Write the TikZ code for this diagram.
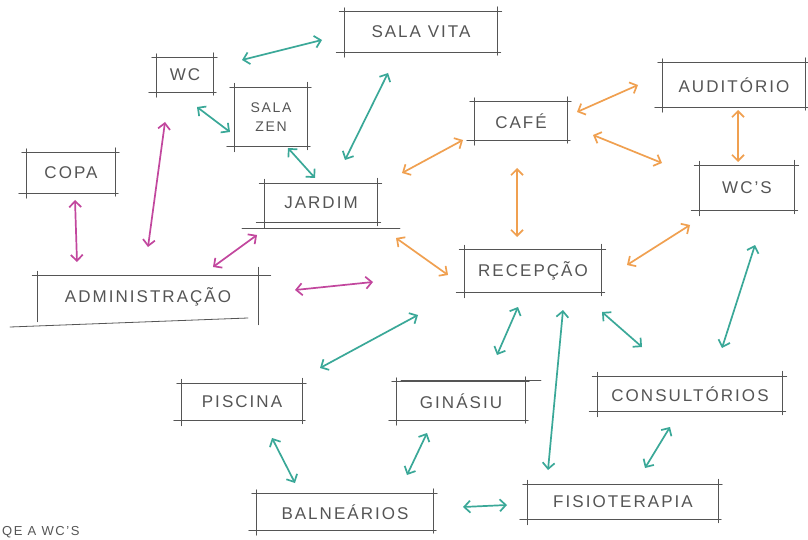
\documentclass[tikz,border=0pt]{standalone}
\usepackage{fontspec}
\setmainfont[LetterSpace=12]{Liberation Sans}
\usetikzlibrary{arrows.meta}
\definecolor{tealc}{HTML}{3AA898}
\definecolor{orng}{HTML}{F0A050}
\definecolor{mag}{HTML}{C2479E}
\definecolor{ink}{HTML}{555555}
\begin{document}
\begin{tikzpicture}[x=1pt,y=-1pt,
  box/.style={draw=none, text=ink, inner sep=0pt, align=center,
    font=\fontsize{17}{19}\selectfont},
  skl/.style={draw=ink, line width=0.8pt, line cap=round},
  arr/.style={line width=1.7pt, {Straight Barb[length=6pt,width=12pt]}-{Straight Barb[length=6pt,width=12pt]}},
  ta/.style={arr, draw=tealc},
  oa/.style={arr, draw=orng},
  ma/.style={arr, draw=mag}]
\useasboundingbox (0,0) rectangle (808,540);
\clip (0,0) rectangle (808,540);
\fill[white] (0,0) rectangle (808,540);

% nodes
\node[box, minimum width=153pt, minimum height=40pt] (vita) at (421,32) {SALA VITA};
\node[box, minimum width=56pt, minimum height=34pt] (wc) at (185,75) {WC};
\node[box, minimum width=72pt, minimum height=59pt, font=\fontsize{14}{19}\selectfont] (zen) at (271,117) {SALA\\ZEN};
\node[box, minimum width=88pt, minimum height=40pt] (copa) at (71,173) {COPA};
\node[box, minimum width=113pt, minimum height=39pt] (jardim) at (321,203) {JARDIM};
\node[box, minimum width=221pt, minimum height=43pt] (adm) at (148,297) {ADMINISTRAÇÃO};
\node[box, minimum width=92pt, minimum height=38pt] (cafe) at (521,121) {CAFÉ};
\node[box, minimum width=142pt, minimum height=44pt] (aud) at (734,85) {AUDITÓRIO};
\node[box, minimum width=95pt, minimum height=45pt] (wcs) at (747,188) {WC'S};
\node[box, minimum width=137pt, minimum height=43pt] (rec) at (533,271) {RECEPÇÃO};
\node[box, minimum width=120pt, minimum height=37pt] (pisc) at (242,402) {PISCINA};
\node[box, minimum width=128pt, minimum height=38pt] (gin) at (461,401) {GINÁSIU};
\node[box, minimum width=185pt, minimum height=35pt] (cons) at (690,394) {CONSULTÓRIOS};
\node[box, minimum width=176pt, minimum height=36pt] (baln) at (345,512) {BALNEÁRIOS};
\node[box, minimum width=190pt, minimum height=35pt] (fisio) at (623,502) {FISIOTERAPIA};

% sketchy outlines
\foreach \n in {vita,wc,zen,copa,jardim,cafe,aud,wcs,rec,pisc,gin,cons,baln,fisio}{
  \draw[skl] ([xshift=-5pt]\n.north west) -- ([xshift=4pt]\n.north east);
  \draw[skl] ([xshift=-8pt]\n.south west) -- ([xshift=3pt]\n.south east);
  \draw[skl] ([yshift=4pt]\n.north west) -- ([yshift=-5pt]\n.south west);
  \draw[skl] ([yshift=5pt]\n.north east) -- ([yshift=-3pt]\n.south east);
}
% administração box (long sloping bottom line)
\draw[skl] ([xshift=-5pt]adm.north west) -- ([xshift=12pt]adm.north east);
\draw[skl] ([shift={(-138,30)}]adm.center) -- ([shift={(100,21)}]adm.center);
\draw[skl] ([yshift=4pt]adm.north west) -- ([yshift=-3pt]adm.south west);
\draw[skl] ([yshift=8pt]adm.north east) -- ([yshift=-6pt]adm.south east);
% extra overshooting strokes
\draw[skl] ([shift={(-79,25)}]jardim.center) -- ([shift={(79,25)}]jardim.center);
\draw[skl] ([shift={(-60,-21)}]gin.center) -- ([shift={(80,-21)}]gin.center);

% teal connectors
\draw[ta] ([shift={(57,-15)}]wc.center) -- ([shift={(-99,8)}]vita.center);
\draw[ta] ([shift={(12,32)}]wc.center) -- ([shift={(-41,15)}]zen.center);
\draw[ta] ([shift={(17,31)}]zen.center) -- ([shift={(-6,-25)}]jardim.center);
\draw[ta] ([shift={(-33,41)}]vita.center) -- ([shift={(24,-43)}]jardim.center);
\draw[ta] ([shift={(-115,44)}]rec.center) -- ([shift={(78,-34)}]pisc.center);
\draw[ta] ([shift={(-15,36)}]rec.center) -- ([shift={(36,-46)}]gin.center);
\draw[ta] ([shift={(30,39)}]rec.center) -- ([shift={(-75,-32)}]fisio.center);
\draw[ta] ([shift={(69,41)}]rec.center) -- ([shift={(-48,-47)}]cons.center);
\draw[ta] ([shift={(8,57)}]wcs.center) -- ([shift={(32,-46)}]cons.center);
\draw[ta] ([shift={(30,36)}]pisc.center) -- ([shift={(-50,-29)}]baln.center);
\draw[ta] ([shift={(-34,32)}]gin.center) -- ([shift={(62,-37)}]baln.center);
\draw[ta] ([shift={(118,-5)}]baln.center) -- ([shift={(-116,3)}]fisio.center);
\draw[ta] ([shift={(-20,33)}]cons.center) -- ([shift={(22,-34)}]fisio.center);

% orange connectors
\draw[oa] ([shift={(56,-9)}]cafe.center) -- ([shift={(-96,0)}]aud.center);
\draw[oa] ([shift={(72,14)}]cafe.center) -- ([shift={(-85,-25)}]wcs.center);
\draw[oa] ([shift={(4,25)}]aud.center) -- ([shift={(-9,-26)}]wcs.center);
\draw[oa] ([shift={(-58,19)}]cafe.center) -- ([shift={(81,-30)}]jardim.center);
\draw[oa] ([shift={(-4,47)}]cafe.center) -- ([shift={(-16,-34)}]rec.center);
\draw[oa] ([shift={(75,35)}]jardim.center) -- ([shift={(-85,4)}]rec.center);
\draw[oa] ([shift={(-57,37)}]wcs.center) -- ([shift={(94,-6)}]rec.center);

% magenta connectors
\draw[ma] ([shift={(4,27)}]copa.center) -- ([shift={(-71,-35)}]adm.center);
\draw[ma] ([shift={(-20,47)}]wc.center) -- ([shift={(0,-50)}]adm.center);
\draw[ma] ([shift={(-64,32)}]jardim.center) -- ([shift={(65,-30)}]adm.center);
\draw[ma] ([shift={(147,-7)}]adm.center) -- ([shift={(-160,11)}]rec.center);

% note at the bottom edge
\node[anchor=north west, text=ink, inner sep=0pt, font=\fontsize{13}{15}\selectfont] (note) at (2,526) {QE A WC'S};
\end{tikzpicture}
\end{document}
